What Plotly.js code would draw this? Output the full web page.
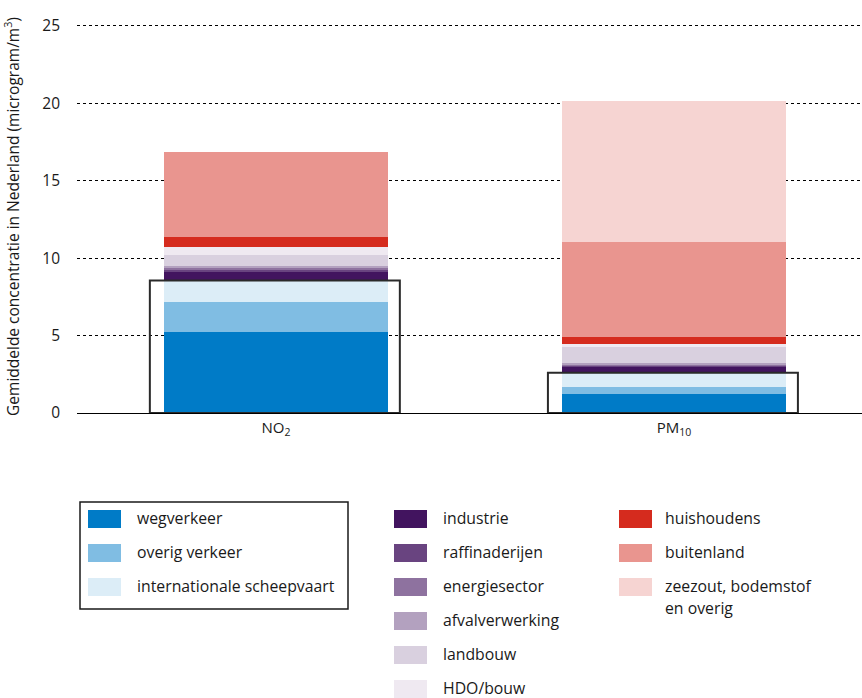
<!DOCTYPE html>
<html>
<head>
<meta charset="utf-8">
<script src="https://cdn.plot.ly/plotly-3.0.1.min.js"></script>
<style>html,body{margin:0;padding:0;background:#fff;}#chart{width:862px;height:698px;}</style>
</head>
<body>
<div id="chart"></div>
<script>
// ---- data ----
const categories = ['NO<sub>2</sub>', 'PM<sub>10</sub>'];
const wegverkeer      = [5.20, 1.20];
const overigVerkeer   = [1.94, 0.45];
const scheepvaart     = [1.42, 0.95];
const industrie       = [0.54, 0.38];
const raffinaderijen  = [0.13, 0.04];
const energiesector   = [0.13, 0.10];
const afvalverwerking = [0.13, 0.08];
const landbouw        = [0.69, 1.05];
const hdoBouw         = [0.54, 0.18];
const huishoudens     = [0.61, 0.47];
const buitenland      = [5.51, 6.12];
const zeezout         = [0.00, 9.12];

const seriesNames = ['wegverkeer', 'overig verkeer', 'internationale scheepvaart',
  'industrie', 'raffinaderijen', 'energiesector', 'afvalverwerking', 'landbouw',
  'HDO/bouw', 'huishoudens', 'buitenland', 'zeezout, bodemstof<br>en overig'];
const seriesValues = [wegverkeer, overigVerkeer, scheepvaart, industrie, raffinaderijen,
  energiesector, afvalverwerking, landbouw, hdoBouw, huishoudens, buitenland, zeezout];
const seriesColors = ['#007bc7', '#80bde3', '#dcedf7', '#42145f', '#694480', '#8e729f',
  '#b3a1bf', '#d9d0df', '#efe9f1', '#d52b1e', '#e9958f', '#f6d4d2'];
const yTitle = 'Gemiddelde concentratie in Nederland (microgram/m<sup>3</sup>)';
const yTickVals = [0, 5, 10, 15, 20, 25];

// legend columns (indices into series)
const legendColumns = [[0, 1, 2], [3, 4, 5, 6, 7, 8], [9, 10, 11]];

// ---- layout geometry (pixels) ----
const FONT = 'Open Sans, Noto Sans, sans-serif';
const TXT = '#1a1a1a';
const L = 77, R = 862, T = 20, B = 413;
const px = x => (x - L) / (R - L);
const py = y => (B - y) / (B - T);

const traces = seriesValues.map((vals, i) => ({
  type: 'bar',
  x: categories,
  y: vals,
  name: seriesNames[i],
  marker: {color: seriesColors[i], line: {width: 0}},
  width: 0.563,
  showlegend: false,
  hoverinfo: 'name+y'
}));

const shapes = [];
const annotations = [];

// boxes around traffic sources (sum of first three series)
categories.forEach((c, i) => {
  const top = wegverkeer[i] + overigVerkeer[i] + scheepvaart[i];
  shapes.push({type: 'rect', xref: 'x', yref: 'y', x0: i - 0.317, x1: i + 0.311,
    y0: 0, y1: top, line: {color: '#2a2a2a', width: 2}, fillcolor: 'rgba(0,0,0,0)', layer: 'above'});
});

// legend
const colSwatchX = [88, 394, 619];
const colTextX = [135, 441, 663];
const rowY0 = 519, rowStep = 34;
legendColumns.forEach((col, ci) => {
  col.forEach((si, ri) => {
    const cy = rowY0 + ri * rowStep;
    shapes.push({type: 'rect', xref: 'paper', yref: 'paper',
      x0: px(colSwatchX[ci]), x1: px(colSwatchX[ci] + 33),
      y0: py(cy - 9), y1: py(cy + 9),
      fillcolor: seriesColors[si], line: {width: 0}});
    const lines = seriesNames[si].split('<br>');
    lines.forEach((ln, li) => {
      annotations.push({xref: 'paper', yref: 'paper', x: px(colTextX[ci]), y: py(cy - 1 + li * 22),
        xanchor: 'left', yanchor: 'middle', showarrow: false, text: ln,
        font: {family: FONT, size: 15.8, color: TXT}});
    });
  });
});
// box around first legend column
shapes.push({type: 'rect', xref: 'paper', yref: 'paper',
  x0: px(80), x1: px(348), y0: py(502), y1: py(609),
  line: {color: '#1a1a1a', width: 1.5}, fillcolor: 'rgba(0,0,0,0)'});

const layout = {
  width: 862, height: 698,
  margin: {l: L, r: 862 - R, t: T, b: 698 - B, pad: 0},
  paper_bgcolor: '#ffffff', plot_bgcolor: '#ffffff',
  barmode: 'stack',
  font: {family: FONT, size: 15, color: TXT},
  xaxis: {
    type: 'category', range: [-0.5, 1.472], showgrid: false, zeroline: false,
    showline: true, linecolor: '#000', linewidth: 1.3, ticks: '',
    tickfont: {family: FONT, size: 15, color: TXT}, ticklabelstandoff: 1,
    fixedrange: true
  },
  yaxis: {
    range: [0, 25.37], tickvals: yTickVals, ticktext: yTickVals.map(String),
    showgrid: true, gridcolor: '#000', gridwidth: 1, griddash: '3px,3px',
    zeroline: false, showline: false, ticks: '', ticklabelstandoff: 16,
    tickfont: {family: FONT, size: 15.5, color: TXT},
    title: {text: yTitle, font: {family: FONT, size: 15.5, color: TXT}, standoff: 24},
    automargin: false, fixedrange: true
  },
  shapes: shapes,
  annotations: annotations,
  showlegend: false
};

Plotly.newPlot('chart', traces, layout, {displayModeBar: false, staticPlot: true});
</script>
</body>
</html>
